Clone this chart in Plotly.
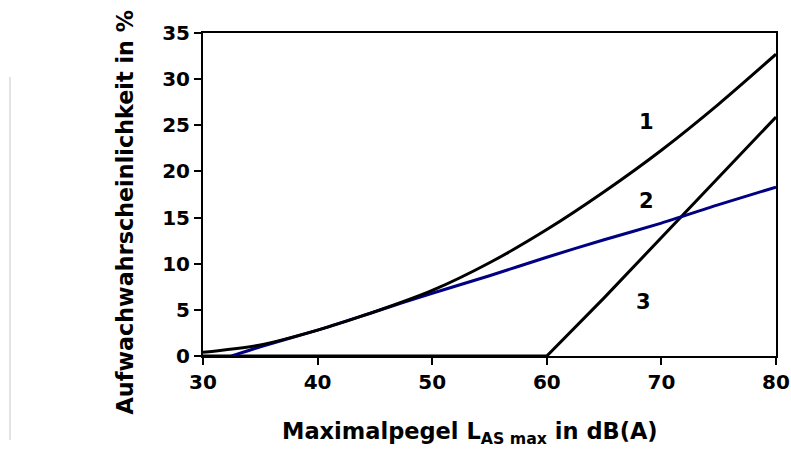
import plotly.graph_objects as go

# Data
x1 = [30, 35, 40, 45, 50, 55, 60, 65, 70, 75, 80]
y1 = [0.4, 1.2, 2.8, 4.8, 7.1, 10.1, 13.7, 17.8, 22.3, 27.3, 32.7]

x2 = [32.5, 35, 40, 45, 50, 55, 60, 65, 70, 75, 80]
y2 = [0.0, 1.0, 2.8, 4.8, 6.8, 8.7, 10.7, 12.6, 14.4, 16.4, 18.3]

x3 = [30, 40, 50, 60, 65, 70, 75, 80]
y3 = [0, 0, 0, 0, 6.3, 12.8, 19.3, 25.9]

curve_labels = ["1", "2", "3"]
label_x = [68.7, 68.7, 68.4]
label_y = [25.4, 16.8, 5.9]

x_ticks = [30, 40, 50, 60, 70, 80]
y_ticks = [0, 5, 10, 15, 20, 25, 30, 35]

FONT = "DejaVu Sans, Liberation Sans, Arial, sans-serif"

fig = go.Figure()
fig.add_trace(go.Scatter(x=x3, y=y3, mode="lines",
                         line=dict(color="black", width=3), showlegend=False))
fig.add_trace(go.Scatter(x=x2, y=y2, mode="lines",
                         line=dict(color="#000080", width=3, shape="spline", smoothing=0.6),
                         showlegend=False))
fig.add_trace(go.Scatter(x=x1, y=y1, mode="lines",
                         line=dict(color="black", width=3, shape="spline", smoothing=0.8),
                         showlegend=False))

for t, lx, ly in zip(curve_labels, label_x, label_y):
    fig.add_annotation(x=lx, y=ly, text=t, showarrow=False,
                       font=dict(family=FONT, size=21, color="black", weight="bold"))

# Axis titles
fig.add_annotation(xref="paper", yref="paper", x=0.466, y=-0.238, yanchor="middle",
                   text="Maximalpegel L<sub>AS max</sub> in dB(A)", showarrow=False,
                   font=dict(family=FONT, size=22.5, color="black", weight="bold"))
fig.add_annotation(xref="paper", yref="paper", x=-0.137, y=0.446, xanchor="center",
                   yanchor="middle",
                   text="Aufwachwahrscheinlichkeit in %", showarrow=False, textangle=-90,
                   font=dict(family=FONT, size=22.3, color="black", weight="bold"))

# light grey vertical line at left edge
fig.add_shape(type="line", xref="paper", yref="paper",
              x0=(10 - 203) / 573, x1=(10 - 203) / 573,
              y0=(356 - 77) / 323, y1=(356 - 440) / 323,
              line=dict(color="#c8c8c8", width=1))

fig.update_xaxes(range=[30, 80], tickvals=x_ticks, ticks="outside", ticklen=7, tickwidth=2,
                 tickcolor="black", showline=True, linecolor="black", linewidth=2, mirror=True,
                 showgrid=False, zeroline=False, automargin=False,
                 tickfont=dict(family=FONT, size=20, color="black", weight="bold"))
fig.update_yaxes(range=[0, 35], tickvals=y_ticks, ticks="outside", ticklen=7, tickwidth=2,
                 tickcolor="black", showline=True, linecolor="black", linewidth=2, mirror=True,
                 showgrid=False, zeroline=False, automargin=False,
                 tickfont=dict(family=FONT, size=20, color="black", weight="bold"))

fig.update_layout(width=791, height=453, margin=dict(l=203, r=15, t=33, b=97),
                  plot_bgcolor="white", paper_bgcolor="white")

fig.write_html("out.html", config={"displayModeBar": False},
               post_script="document.body.style.margin='0';document.body.style.overflow='hidden';")
